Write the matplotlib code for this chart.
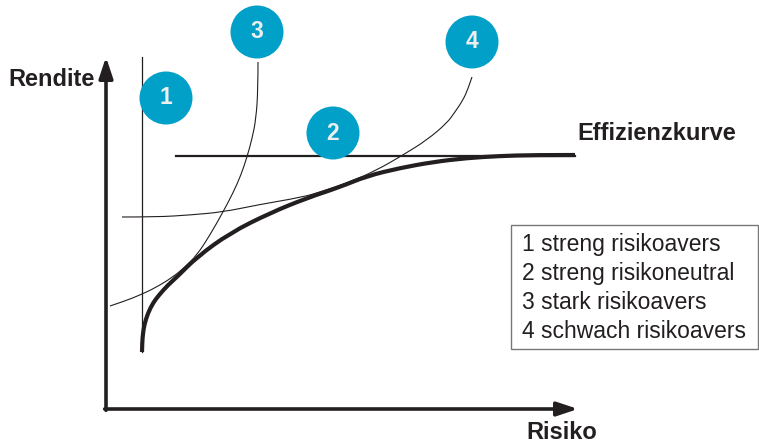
"""Effizienzkurve mit Indifferenzkurven (Risiko / Rendite)."""
import matplotlib.pyplot as plt
from matplotlib.patches import Circle, PathPatch, Rectangle
from matplotlib.path import Path

plt.rcParams["font.family"] = ["Liberation Sans", "DejaVu Sans"]

INK = "#231f20"
TEAL = "#00a0c8"

# Effizienzkurve (Risiko, Rendite)
eff_risk = [36, 36.2, 37, 38.5, 42, 47, 53, 62, 72, 91, 124, 164, 201, 234, 261, 294, 327, 361, 394, 427, 469]
eff_ret = [57, 66, 76, 85, 96, 106, 114, 124, 133, 152, 176, 196, 211, 222, 233, 241, 247, 251, 253, 254, 254]

# Indifferenzkurve 3 (stark risikoavers)
c3_risk = [152, 152, 150, 146, 141, 135, 127, 117, 104, 91, 79, 67, 49, 34, 19, 4]
c3_ret = [347, 320, 290, 270, 252, 234, 216, 197, 174, 154, 142, 132, 121, 114, 108, 103]

# Indifferenzkurve 4 (schwach risikoavers)
c4_risk = [366, 362, 357, 349, 341, 321, 297, 271, 244, 214, 197, 151, 117, 84, 51, 16]
c4_ret = [332, 320, 309, 297, 286, 269, 254, 239, 227, 217, 212, 204, 197, 194, 192, 192]

# 1: senkrechte Linie, 2: waagerechte Linie
c1_risk = [36, 36]
c1_ret = [57, 352]
c2_risk = [70, 469]
c2_ret = [253, 253]

marker_labels = ["1", "2", "3", "4"]
marker_pos = [(60, 311), (227, 276), (151, 377), (366, 367)]

legend_lines = [
    "1 streng risikoavers",
    "2 streng risikoneutral",
    "3 stark risikoavers",
    "4 schwach risikoavers",
]


def smooth_path(xs, ys):
    # quadratic bezier through midpoints, the read points act as control points
    pts = list(zip(xs, ys))
    verts = [pts[0]]
    codes = [Path.MOVETO]
    for i in range(1, len(pts) - 1):
        mid = ((pts[i][0] + pts[i + 1][0]) / 2, (pts[i][1] + pts[i + 1][1]) / 2)
        if i == len(pts) - 2:
            mid = pts[-1]
        verts += [pts[i], mid]
        codes += [Path.CURVE3, Path.CURVE3]
    return Path(verts, codes)


def draw_curve(ax, xs, ys, lw):
    ax.add_patch(PathPatch(smooth_path(xs, ys), facecolor="none", edgecolor=INK,
                           lw=lw, capstyle="butt"))


fig = plt.figure(figsize=(7.59, 4.44), dpi=100)
ax = fig.add_axes([0, 0, 1, 1])
ax.set_xlim(-106, 653)
ax.set_ylim(-35, 409)
ax.axis("off")

# Achsen mit Pfeilen
arrow = dict(arrowstyle="-|>,head_length=0.9,head_width=0.3", color=INK, lw=2.6,
             shrinkA=0, shrinkB=0, mutation_scale=14)
ax.annotate("", xy=(0, 352), xytext=(0, -1.3), arrowprops=arrow)
ax.annotate("", xy=(472, 0), xytext=(-1.3, 0), arrowprops=arrow)

ax.plot(c1_risk, c1_ret, color=INK, lw=0.9)
ax.plot(c2_risk, c2_ret, color=INK, lw=1.6)
draw_curve(ax, c3_risk, c3_ret, 0.8)
draw_curve(ax, c4_risk, c4_ret, 0.8)
draw_curve(ax, eff_risk, eff_ret, 3.0)

for label, (x, y) in zip(marker_labels, marker_pos):
    ax.add_patch(Circle((x, y), 26.5, facecolor=TEAL, edgecolor="none", zorder=5))
    ax.text(x, y, label, ha="center", va="center", color="#eeeeee",
            fontsize=16.5, fontweight="bold", zorder=6)

ax.text(-98, 329, "Rendite", ha="left", va="center", fontsize=17,
        fontweight="bold", color=INK)
ax.text(456, -23, "Risiko", ha="center", va="center", fontsize=17,
        fontweight="bold", color=INK)
ax.text(471, 275, "Effizienzkurve", ha="left", va="center", fontsize=17,
        fontweight="bold", color=INK)

ax.add_patch(Rectangle((405, 60), 247, 124, facecolor="white",
                       edgecolor="#777777", lw=1.0))
for i, line in enumerate(legend_lines):
    ax.text(416, 164 - i * 28.8, line, ha="left", va="center",
            fontsize=16.5, color=INK)

fig.savefig("out.png", dpi=100)
